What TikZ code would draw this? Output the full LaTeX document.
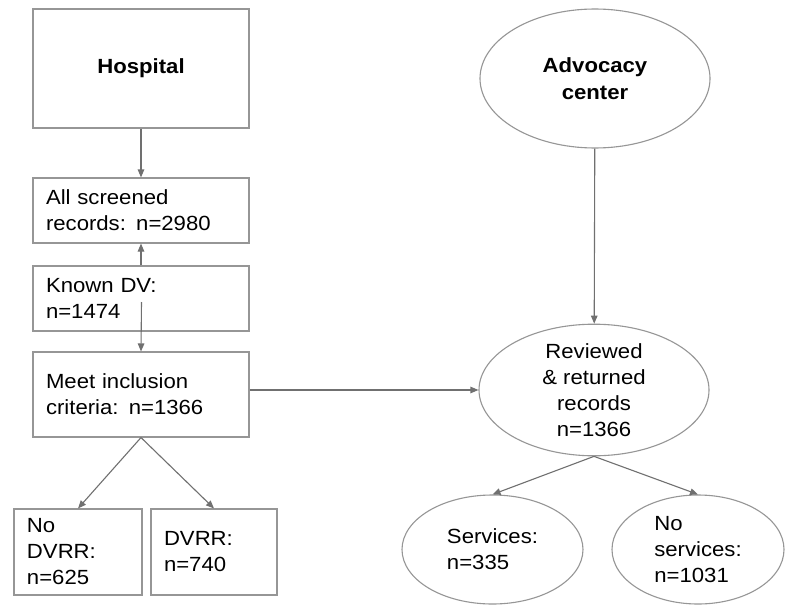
\documentclass[tikz,border=0pt]{standalone}
\usepackage{fontspec}
\setmainfont[FakeStretch=1.08]{Liberation Sans}
\usetikzlibrary{shapes.geometric,arrows.meta}
\definecolor{linegray}{RGB}{112,112,112}
\definecolor{boxgray}{RGB}{150,150,150}

\begin{document}
\begin{tikzpicture}[x=1pt,y=-1pt,
  font=\fontsize{20.5}{26}\selectfont,
  recbox/.style={draw=boxgray,line width=1.1pt,rectangle,align=left,inner xsep=13pt,inner ysep=0pt},
  ovalbox/.style={draw=boxgray,line width=1.1pt,ellipse,inner sep=0pt},
  flow/.style={draw=linegray,line width=1.1pt,-{Triangle[length=8pt,width=6.5pt]}}]
\fill[white] (0,0) rectangle (786,607);
\useasboundingbox (0,0) rectangle (786,607);
\node[recbox,align=center,minimum width=216pt,minimum height=119pt,font=\fontsize{20.5}{26}\selectfont\bfseries] (hosp) at (141,68.5) {Hospital};
\node[recbox,text width=190pt,minimum height=65pt] (all) at (141,210.5) {All screened\\records: n=2980};
\node[recbox,text width=190pt,minimum height=65pt] (known) at (141,298.5) {Known DV:\\n=1474};
\node[recbox,text width=190pt,minimum height=85pt] (meet) at (141,394.5) {Meet inclusion\\criteria: n=1366};
\node[recbox,text width=102pt,minimum height=86pt] (nodvrr) at (78,552) {No\\DVRR:\\n=625};
\node[recbox,text width=100pt,minimum height=86pt] (dvrr) at (214,552) {DVRR:\\n=740};
\node[ovalbox,align=center,minimum width=230pt,minimum height=139pt,font=\fontsize{20.5}{27}\selectfont\bfseries] (adv) at (595,78.5) {Advocacy\\center};
\node[ovalbox,align=center,minimum width=230pt,minimum height=118pt] (rev) at (594,390) {Reviewed\\\& returned\\records\\n=1366};
\node[ovalbox,align=left,minimum width=181pt,minimum height=109pt] (serv) at (492.5,549.5) {Services:\\n=335};
\node[ovalbox,align=left,minimum width=172pt,minimum height=109pt] (noserv) at (698,549.5) {No\\services:\\n=1031};
\coordinate (kmid) at (141.5,302);
\draw[flow] (hosp) -- (all);
\draw[flow] (known) -- (all);
\draw[flow] (kmid) -- (meet.north);
\draw[flow] (meet.south) -- (nodvrr.north);
\draw[flow] (meet.south) -- (dvrr.north);
\draw[flow] (meet.east |- rev.west) -- (rev.west);
\draw[flow] (adv) -- (rev);
\draw[flow] (rev.south) -- (serv.north);
\draw[flow] (rev.south) -- (noserv.north);
\end{tikzpicture}
\end{document}
